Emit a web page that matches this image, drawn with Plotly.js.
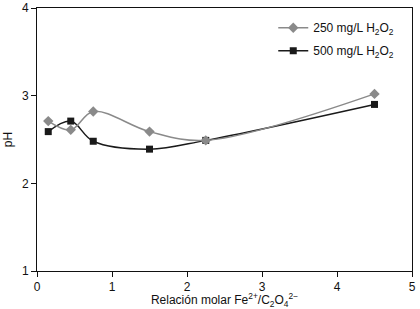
<!DOCTYPE html>
<html><head><meta charset="utf-8">
<script src="https://cdn.plot.ly/plotly-3.0.1.min.js"></script>
<style>body{margin:0;background:#fff}#c{width:420px;height:309px}</style>
</head><body><div id="c"></div>
<script>
const ratio = [0.15, 0.45, 0.75, 1.5, 2.25, 4.5];
const ph250 = [2.71, 2.61, 2.82, 2.59, 2.49, 3.02];
const ph500 = [2.59, 2.71, 2.48, 2.39, 2.49, 2.90];
const seriesNames = ['250 mg/L H<sub>2</sub>O<sub>2</sub>', '500 mg/L H<sub>2</sub>O<sub>2</sub>'];
const xTicks = [0, 1, 2, 3, 4, 5];
const yTicks = [1, 2, 3, 4];
const font = {family: 'Liberation Sans, Arial, sans-serif', size: 12, color: '#111'};
const traces = [
  {x: ratio, y: ph500, name: seriesNames[1], mode: 'lines+markers', legendgroup: 'b', legendrank: 2,
   line: {color: '#1a1a1a', width: 1.5, shape: 'spline', smoothing: 1},
   marker: {symbol: 'square', size: 7, color: '#1a1a1a'}},
  {x: ratio, y: ph250, name: seriesNames[0], mode: 'lines+markers', legendgroup: 'a', legendrank: 1,
   line: {color: '#8a8a8a', width: 1.5, shape: 'spline', smoothing: 1},
   marker: {symbol: 'diamond', size: 8, color: '#8a8a8a'}}
];
const layout = {
  width: 420, height: 309,
  margin: {l: 37, r: 8, t: 8, b: 38},
  paper_bgcolor: '#fff', plot_bgcolor: '#fff',
  font: font,
  showlegend: true,
  legend: {x: 0.63, y: 0.98, xanchor: 'left', yanchor: 'top', traceorder: 'grouped',
           tracegroupgap: 4, bgcolor: 'rgba(0,0,0,0)', font: {family: font.family, size: 12, color: '#111'}},
  xaxis: {range: [0, 5], tickvals: xTicks, ticktext: xTicks.map(String), ticks: 'outside', ticklen: 5,
          tickcolor: '#111', showline: true, linecolor: '#111', linewidth: 1, mirror: true,
          showgrid: false, zeroline: false, tickfont: {size: 12},
          title: {text: 'Relación molar Fe<sup>2+</sup>/C<sub>2</sub>O<sub>4</sub><sup>2−</sup>', standoff: 1, font: {size: 12}}},
  yaxis: {range: [1, 4], tickvals: yTicks, ticktext: yTicks.map(String), ticks: 'outside', ticklen: 5,
          tickcolor: '#111', showline: true, linecolor: '#111', linewidth: 1, mirror: true,
          showgrid: false, zeroline: false, tickfont: {size: 12},
          title: {text: 'pH', standoff: 6, font: {size: 12}}}
};
Plotly.newPlot('c', traces, layout, {displayModeBar: false, staticPlot: true});
</script></body></html>
